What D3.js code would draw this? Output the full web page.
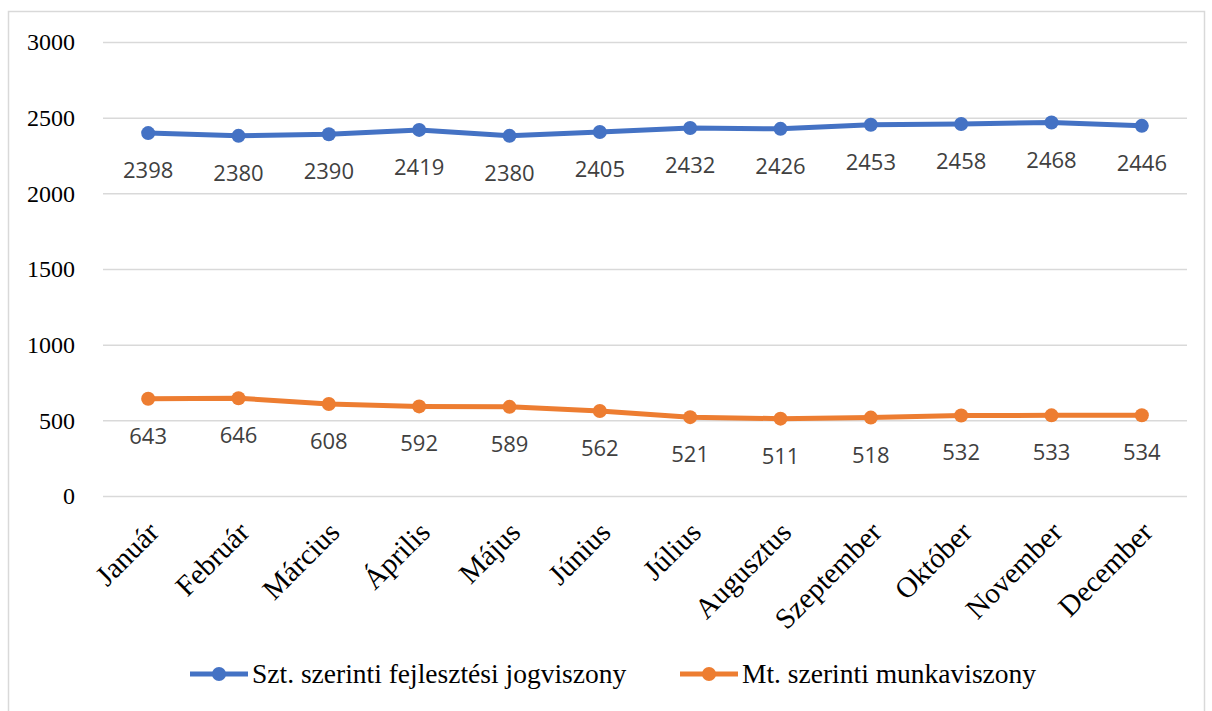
<!DOCTYPE html>
<html>
<head>
<meta charset="utf-8">
<script src="https://cdn.jsdelivr.net/npm/d3@7"></script>
<style>
  body { margin: 0; background: #fff; }
</style>
</head>
<body>
<svg id="chart" width="1212" height="711"></svg>
<script>
// adatok
var months = ["Január", "Február", "Március", "Április", "Május", "Június",
  "Július", "Augusztus", "Szeptember", "Október", "November", "December"];
var sztValues = [2398, 2380, 2390, 2419, 2380, 2405, 2432, 2426, 2453, 2458, 2468, 2446];
var mtValues = [643, 646, 608, 592, 589, 562, 521, 511, 518, 532, 533, 534];
var yTicks = [0, 500, 1000, 1500, 2000, 2500, 3000];
var seriesNames = ["Szt. szerinti fejlesztési jogviszony", "Mt. szerinti munkaviszony"];
var seriesColors = ["#4472C4", "#ED7D31"];

var svg = d3.select("#chart");
var plotLeft = 103, plotRight = 1187, plotTop = 42, plotBottom = 496;

// keret
svg.append("rect")
  .attr("x", 8.5).attr("y", 11.5)
  .attr("width", 1196).attr("height", 710)
  .attr("fill", "none").attr("stroke", "#d9d9d9").attr("stroke-width", 1.5);

var x = d3.scalePoint().domain(months).range([plotLeft, plotRight]).padding(0.5);
var y = d3.scaleLinear().domain([0, 3000]).range([plotBottom, plotTop]);

// rácsvonalak + y tengely
var yAxis = svg.append("g")
  .attr("transform", "translate(" + plotLeft + ",0)")
  .call(d3.axisLeft(y).tickValues(yTicks).tickFormat(d3.format("d"))
    .tickSize(-(plotRight - plotLeft)).tickPadding(28));
yAxis.select(".domain").remove();
yAxis.selectAll("line").attr("stroke", "#d9d9d9").attr("stroke-width", 1.5);
yAxis.selectAll("text")
  .attr("fill", "#000")
  .style("font-family", "'Liberation Serif', serif")
  .style("font-size", "24px");

// x tengely címkék
var xAxis = svg.append("g")
  .attr("transform", "translate(0," + plotBottom + ")")
  .call(d3.axisBottom(x).tickSize(0).tickPadding(0));
xAxis.select(".domain").remove();
xAxis.selectAll("text")
  .attr("fill", "#000")
  .style("font-family", "'Liberation Serif', serif")
  .style("font-size", "29px")
  .attr("text-anchor", "end")
  .attr("dy", 0)
  .attr("transform", "translate(12,38) rotate(-45)");

var line = d3.line()
  .x(function(d, i) { return x(months[i]); })
  .y(function(d) { return y(d); });

[sztValues, mtValues].forEach(function(vals, s) {
  var g = svg.append("g");
  g.append("path")
    .datum(vals)
    .attr("d", line)
    .attr("fill", "none")
    .attr("stroke", seriesColors[s])
    .attr("stroke-width", 5)
    .attr("stroke-linejoin", "round");
  g.selectAll("circle")
    .data(vals).enter().append("circle")
    .attr("cx", function(d, i) { return x(months[i]); })
    .attr("cy", function(d) { return y(d); })
    .attr("r", 7)
    .attr("fill", seriesColors[s]);
  g.selectAll("text")
    .data(vals).enter().append("text")
    .attr("x", function(d, i) { return x(months[i]); })
    .attr("y", function(d) { return y(d) + 45; })
    .attr("text-anchor", "middle")
    .attr("fill", "#404040")
    .style("font-family", "'Open Sans', sans-serif")
    .style("font-size", "22px")
    .text(function(d) { return d; });
});

// jelmagyarázat
var legendX = [190, 680];
seriesNames.forEach(function(name, s) {
  var lg = svg.append("g").attr("transform", "translate(" + legendX[s] + ",674)");
  lg.append("line").attr("x1", 0).attr("x2", 58).attr("y1", 0).attr("y2", 0)
    .attr("stroke", seriesColors[s]).attr("stroke-width", 5);
  lg.append("circle").attr("cx", 29).attr("cy", 0).attr("r", 7).attr("fill", seriesColors[s]);
  lg.append("text").attr("x", 62).attr("y", 9)
    .style("font-family", "'Liberation Serif', serif")
    .style("font-size", "27.5px")
    .attr("fill", "#000")
    .text(name);
});
</script>
</body>
</html>
